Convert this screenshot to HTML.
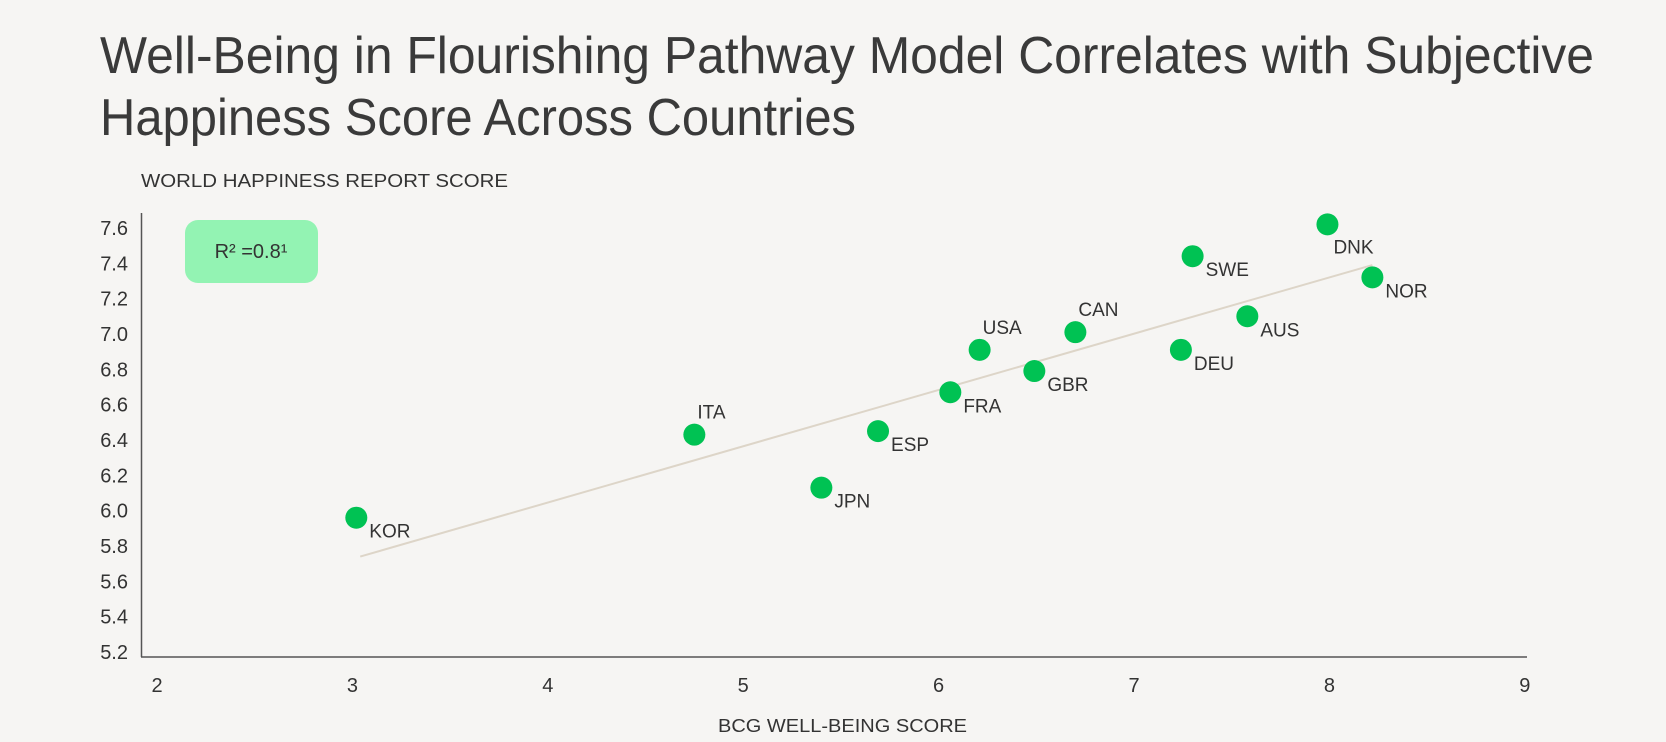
<!DOCTYPE html>
<html><head><meta charset="utf-8"><style>
html,body{margin:0;padding:0;background:#f6f5f3;}
svg{display:block;font-family:"Liberation Sans",sans-serif;}
</style></head><body>
<svg id="chart" width="1666" height="742" viewBox="0 0 1666 742" xmlns="http://www.w3.org/2000/svg">
<rect width="1666" height="742" fill="#f6f5f3"/>
<text x="100" y="73" font-size="52" fill="#3a3a3a" textLength="1494" lengthAdjust="spacingAndGlyphs">Well-Being in Flourishing Pathway Model Correlates with Subjective</text>
<text x="100" y="135" font-size="52" fill="#3a3a3a" textLength="756" lengthAdjust="spacingAndGlyphs">Happiness Score Across Countries</text>
<text x="141" y="187" font-size="18" fill="#333" textLength="367" lengthAdjust="spacingAndGlyphs">WORLD HAPPINESS REPORT SCORE</text>
<text x="718" y="732" font-size="18" fill="#333" textLength="249" lengthAdjust="spacingAndGlyphs">BCG WELL-BEING SCORE</text>
<rect x="185" y="220" width="133" height="63" rx="13" fill="#93f3b3"/>
<text x="251" y="258" font-size="20" fill="#333" text-anchor="middle">R² =0.8¹</text>
<line x1="141.5" y1="213" x2="141.5" y2="657" stroke="#555" stroke-width="1.5"/>
<line x1="141" y1="657" x2="1527" y2="657" stroke="#555" stroke-width="1.5"/>
<g id="ticks"></g>
<g id="marks"></g>
</svg>
<script>
const countries = ["KOR","ITA","JPN","ESP","FRA","USA","GBR","CAN","DEU","AUS","SWE","DNK","NOR"];
const wellBeing = [3.02,4.75,5.40,5.69,6.06,6.21,6.49,6.70,7.24,7.58,7.30,7.99,8.22];
const happiness = [5.96,6.43,6.13,6.45,6.67,6.91,6.79,7.01,6.91,7.10,7.44,7.62,7.32];
const labelPos = ["br","tr","br","br","br","tr","br","tr","br","br","br","b","br"];
const xTicks = [2,3,4,5,6,7,8,9];
const yTicks = ["5.2","5.4","5.6","5.8","6.0","6.2","6.4","6.6","6.8","7.0","7.2","7.4","7.6"];
const trendX = [3.04,8.22];
const trendY = [5.74,7.39];

const NS="http://www.w3.org/2000/svg";
function xs(v){return 157+(v-2)*195.4;}
function ys(v){return 652-(v-5.2)*176.7;}
function mk(tag,attrs,parent){const e=document.createElementNS(NS,tag);for(const k in attrs)e.setAttribute(k,attrs[k]);parent.appendChild(e);return e;}
const ticks=document.getElementById('ticks');
const marks=document.getElementById('marks');
xTicks.forEach(t=>{
  const e=mk('text',{x:xs(t),y:692,'font-size':20,fill:'#333','text-anchor':'middle'},ticks);
  
  
  e.textContent=t;
});
yTicks.forEach(t=>{
  const e=mk('text',{x:128,y:ys(parseFloat(t))+7,'font-size':20,fill:'#333','text-anchor':'end'},ticks);
  
  
  e.textContent=t;
});
const tl=mk('line',{x1:xs(trendX[0]),y1:ys(trendY[0]),x2:xs(trendX[1]),y2:ys(trendY[1]),stroke:'#ddd5c8','stroke-width':2},marks);


countries.forEach((c,i)=>{
  const cx=xs(wellBeing[i]),cy=ys(happiness[i]);
  const d=mk('circle',{cx:cx,cy:cy,r:11,fill:'#00c253'},marks);
  
  
  let lx,ly;
  if(labelPos[i]==='tr'){lx=cx+3;ly=cy-16;}
  else if(labelPos[i]==='b'){lx=cx+6;ly=cy+29;}
  else{lx=cx+13;ly=cy+20;}
  const t=mk('text',{x:lx,y:ly,'font-size':19,fill:'#333'},marks);
  
  
  t.textContent=c;
});
</script>
</body></html>
